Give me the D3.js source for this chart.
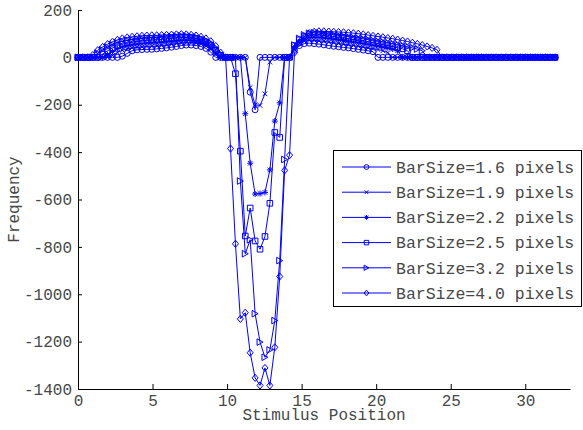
<!DOCTYPE html>
<html>
<head>
<meta charset="utf-8">
<script src="https://cdn.jsdelivr.net/npm/d3@7"></script>
<style>
  body { margin: 0; background: #fff; }
  svg { display: block; }
  text { font-family: "Liberation Mono", "Courier New", monospace; }
</style>
</head>
<body>
<svg id="chart" width="583" height="430"></svg>
<script>
// Stimulus positions (98 samples from 0 to 32)
const positions = [
  0.00, 0.33, 0.66, 0.99, 1.32, 1.65, 1.98, 2.31, 2.64, 2.97,
  3.30, 3.63, 3.96, 4.29, 4.62, 4.95, 5.28, 5.61, 5.94, 6.27,
  6.60, 6.93, 7.26, 7.59, 7.92, 8.25, 8.58, 8.91, 9.24, 9.57,
  9.90, 10.23, 10.56, 10.89, 11.22, 11.55, 11.88, 12.21, 12.54, 12.87,
  13.20, 13.53, 13.86, 14.19, 14.52, 14.85, 15.18, 15.51, 15.84, 16.16,
  16.49, 16.82, 17.15, 17.48, 17.81, 18.14, 18.47, 18.80, 19.13, 19.46,
  19.79, 20.12, 20.45, 20.78, 21.11, 21.44, 21.77, 22.10, 22.43, 22.76,
  23.09, 23.42, 23.75, 24.08, 24.41, 24.74, 25.07, 25.40, 25.73, 26.06,
  26.39, 26.72, 27.05, 27.38, 27.71, 28.04, 28.37, 28.70, 29.03, 29.36,
  29.69, 30.02, 30.35, 30.68, 31.01, 31.34, 31.67, 32.00
];

// Frequency per position, one array per bar size
const bar16 = [
  0, 0, 0, 0, 0, 0, 0, 0, 0,
  5, 17, 28, 32, 33, 34, 34, 36, 38, 40, 43, 46, 50, 52, 52, 50, 46, 38, 22,
  0, 0, 0, 0, 0, 0, 0,
  -147, -221,
  0, 0, 0, 0, 0, 0, 0,
  30, 50, 58, 60, 58, 56, 53, 50, 47, 45, 42, 40, 37, 34, 31, 28, 24,
  0, 0, 0, 0, 0, 0, 0, 0, 0, 0, 0, 0, 0, 0, 0, 0, 0, 0, 0, 0, 0, 0, 0, 0, 0,
  0, 0, 0, 0, 0, 0, 0, 0, 0, 0, 0, 0
];
const bar19 = [
  0, 0, 0, 0, 0, 0, 0,
  8, 20, 30, 36, 40, 42, 44, 46, 47, 48, 50, 52, 55, 58, 60, 62, 62, 60, 56, 48, 35, 12,
  0, 0, 0, 0, 0, 0,
  -127, -200, -203, -154, -20,
  0, 0, 0, 0,
  38, 58, 68, 72, 72, 70, 68, 65, 62, 59, 56, 53, 50, 47, 44, 40, 37, 33, 28, 20,
  0, 0, 0, 0, 0, 0, 0, 0, 0, 0, 0, 0, 0, 0, 0, 0, 0, 0, 0, 0, 0, 0, 0, 0, 0,
  0, 0, 0, 0, 0, 0, 0, 0, 0
];
const bar22 = [
  0, 0, 0, 0, 0, 0,
  12, 25, 36, 44, 50, 53, 56, 58, 60, 61, 62, 64, 66, 68, 70, 72, 73, 72, 70, 65, 56, 42, 20,
  0, 0, 0, 0, 0,
  -238, -447, -577, -575, -570, -475, -269, -192,
  0, 0,
  45, 66, 78, 84, 85, 84, 82, 80, 77, 74, 71, 68, 65, 62, 58, 55, 51, 48, 44, 40, 35, 28,
  0, 0, 0, 0, 0, 0, 0, 0, 0, 0, 0, 0, 0, 0, 0, 0, 0, 0, 0, 0, 0, 0, 0, 0, 0,
  0, 0, 0, 0, 0, 0, 0
];
const bar25 = [
  0, 0, 0, 0, 0,
  14, 28, 40, 50, 56, 60, 64, 67, 70, 72, 73, 74, 76, 78, 80, 82, 84, 84, 82, 79, 74, 65, 52, 30, 8,
  0, 0,
  -69, -396, -754, -636, -775, -810, -756, -616, -317, -338,
  0, 0,
  50, 74, 88, 95, 96, 95, 93, 91, 88, 85, 82, 79, 76, 73, 70, 66, 62, 58, 54, 50, 46, 41, 36, 28,
  0, 0, 0, 0, 0, 0, 0, 0, 0, 0, 0, 0, 0, 0, 0, 0, 0, 0, 0, 0, 0, 0, 0, 0, 0,
  0, 0, 0, 0, 0
];
const bar32 = [
  0, 0, 0, 0,
  18, 32, 44, 54, 62, 68, 72, 75, 78, 80, 82, 83, 84, 85, 86, 88, 90, 91, 91, 89, 86, 80, 72, 60, 40, 15,
  0, 0, 0,
  -522, -829, -770, -1082, -1202, -1266, -1235, -1111, -858, -431,
  0,
  52, 80, 95, 102, 104, 103, 101, 99, 96, 93, 90, 87, 84, 81, 78, 75, 72, 68, 65, 61, 57, 53, 49, 45, 40, 35, 28,
  0, 0, 0, 0, 0, 0, 0, 0, 0, 0, 0, 0, 0, 0, 0, 0, 0, 0, 0, 0, 0, 0, 0, 0, 0,
  0, 0
];
const bar40 = [
  0, 0, 0,
  10, 30, 44, 56, 66, 74, 80, 84, 87, 89, 91, 92, 93, 93, 94, 95, 96, 97, 98, 97, 95, 92, 87, 80, 68, 48, 20,
  0,
  -385, -787, -1104, -1078, -1247, -1353, -1385, -1311, -1385, -1224, -925, -477, -413,
  20, 62, 88, 102, 108, 110, 110, 109, 108, 107, 106, 104, 102, 100, 97, 94, 91, 88, 85, 82,
  79, 75, 71, 67, 62, 57, 52, 46, 40, 32,
  0, 0, 0, 0, 0, 0, 0, 0, 0, 0, 0, 0, 0, 0, 0, 0, 0, 0, 0, 0, 0, 0, 0, 0
];

const seriesLabels = [
  "BarSize=1.6 pixels", "BarSize=1.9 pixels", "BarSize=2.2 pixels",
  "BarSize=2.5 pixels", "BarSize=3.2 pixels", "BarSize=4.0 pixels"
];
const seriesMarkers = ["circle", "cross", "asterisk", "square", "triangleRight", "diamond"];
const seriesValues = [bar16, bar19, bar22, bar25, bar32, bar40];

const xTicks = [0, 5, 10, 15, 20, 25, 30];
const yTicks = [200, 0, -200, -400, -600, -800, -1000, -1200, -1400];

const blue = "#0000ff";
const textColor = "#474747";
const svg = d3.select("#chart");

const x = d3.scaleLinear().domain([0, 33]).range([78, 570]);
const y = d3.scaleLinear().domain([-1400, 200]).range([389, 10]);

// Marker outline paths, centred on the origin, s = scale factor
function markerPath(type, s) {
  const p = d3.path();
  if (type === "circle") {
    const r = 3 * s;
    p.moveTo(r, 0); p.arc(0, 0, r, 0, 2 * Math.PI);
  } else if (type === "cross") {
    const h = 2.3 * s;
    p.moveTo(-h, -h); p.lineTo(h, h); p.moveTo(-h, h); p.lineTo(h, -h);
  } else if (type === "asterisk") {
    const h = 3 * s, d = 2.2 * s;
    p.moveTo(-h, 0); p.lineTo(h, 0); p.moveTo(0, -h); p.lineTo(0, h);
    p.moveTo(-d, -d); p.lineTo(d, d); p.moveTo(-d, d); p.lineTo(d, -d);
  } else if (type === "square") {
    const h = 2.8 * s;
    p.rect(-h, -h, 2 * h, 2 * h);
  } else if (type === "triangleRight") {
    const w = 3 * s, h = 3.3 * s;
    p.moveTo(w, 0); p.lineTo(-w, -h); p.lineTo(-w, h); p.closePath();
  } else if (type === "diamond") {
    const w = 3 * s, h = 3.6 * s;
    p.moveTo(0, -h); p.lineTo(w, 0); p.lineTo(0, h); p.lineTo(-w, 0); p.closePath();
  }
  return p.toString();
}

// Axes (ticks pointing into the plot, MATLAB style)
const xAxis = d3.axisBottom(x).tickValues(xTicks).tickSizeInner(-5).tickSizeOuter(0)
  .tickPadding(6).tickFormat(d => String(d));
const yAxis = d3.axisLeft(y).tickValues(yTicks).tickSizeInner(-4).tickSizeOuter(0)
  .tickPadding(6).tickFormat(d => String(d));

const gx = svg.append("g").attr("transform", `translate(0,${y(-1400)})`).call(xAxis);
const gy = svg.append("g").attr("transform", `translate(${x(0)},0)`).call(yAxis);
[gx, gy].forEach(g => {
  g.select(".domain").attr("stroke", "#000").attr("stroke-width", 1);
  g.selectAll(".tick line").attr("stroke", "#000");
  g.selectAll(".tick text").attr("fill", textColor).style("font-size", "16px")
    .style("font-family", "'Liberation Mono', 'Courier New', monospace");
});

// Axis titles
svg.append("text")
  .attr("x", (x(0) + x(33)) / 2).attr("y", 420)
  .attr("text-anchor", "middle").attr("fill", textColor).style("font-size", "16px")
  .text("Stimulus Position");
svg.append("text")
  .attr("transform", `translate(19,${(y(200) + y(-1400)) / 2}) rotate(-90)`)
  .attr("text-anchor", "middle").attr("fill", textColor).style("font-size", "16px")
  .text("Frequency");

// Series lines and markers
const line = d3.line().x((d, i) => x(positions[i])).y(d => y(d));
const plot = svg.append("g");
seriesValues.forEach((vals, si) => {
  const g = plot.append("g");
  g.append("path").attr("d", line(vals)).attr("fill", "none")
    .attr("stroke", blue).attr("stroke-width", 1);
  g.selectAll("path.m").data(vals).join("path").attr("class", "m")
    .attr("transform", (d, i) => `translate(${x(positions[i])},${y(d)})`)
    .attr("d", markerPath(seriesMarkers[si], 1))
    .attr("fill", "none").attr("stroke", blue).attr("stroke-width", 1);
});

// Legend
const legend = svg.append("g");
legend.append("rect").attr("x", 333.5).attr("y", 150.5).attr("width", 248).attr("height", 156)
  .attr("fill", "#fff").attr("stroke", "#000").attr("stroke-width", 1);
seriesLabels.forEach((label, i) => {
  const cy = 167 + i * 25.2;
  legend.append("line").attr("x1", 342).attr("x2", 391).attr("y1", cy).attr("y2", cy)
    .attr("stroke", blue).attr("stroke-width", 1);
  legend.append("path").attr("transform", `translate(366.5,${cy})`)
    .attr("d", markerPath(seriesMarkers[i], 0.8))
    .attr("fill", "none").attr("stroke", blue).attr("stroke-width", 1);
  legend.append("text").attr("x", 396).attr("y", cy).attr("dy", "0.35em")
    .attr("fill", textColor).style("font-size", "16.5px").text(label);
});
</script>
</body>
</html>
